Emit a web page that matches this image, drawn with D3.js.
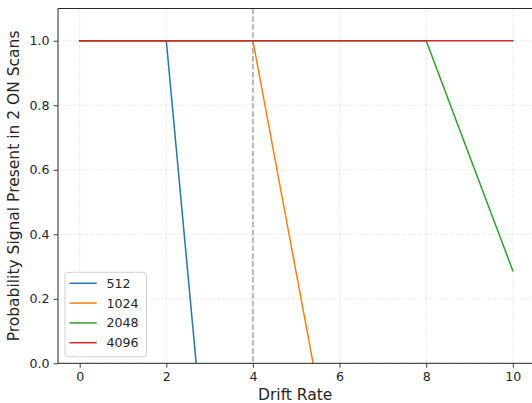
<!DOCTYPE html>
<html><head><meta charset="utf-8">
<script src="https://cdn.jsdelivr.net/npm/d3@7"></script>
<style>body{margin:0;background:#fff;} svg{display:block;font-family:"DejaVu Sans",sans-serif;}</style>
</head><body>
<svg id="c" width="532" height="403"></svg>
<script>
const driftRates = [0,1,2,3,4,5,6,7,8,9,10];
const seriesNames = ["512","1024","2048","4096"];
const values512  = [1,1,1,-0.45,-1.9,-3.35,-4.8,-6.25,-7.7,-9.15,-10.6];
const values1024 = [1,1,1,1,1,0.28,-0.44,-1.16,-1.88,-2.6,-3.32];
const values2048 = [1,1,1,1,1,1,1,1,1,0.643,0.287];
const values4096 = [1,1,1,1,1,1,1,1,1,1,1];
const xTicks = [0,2,4,6,8,10];
const yTicks = [0,0.2,0.4,0.6,0.8,1.0];
const colors = ["#1f77b4","#ff7f0e","#2ca02c","#d62728"];
const allValues = [values512, values1024, values2048, values4096];

const svg = d3.select("#c");
const m = {l:58, t:8.5, r:534.5, b:363.3};
const x = d3.scaleLinear().domain([-0.5,10.5]).range([m.l, m.r]);
const y = d3.scaleLinear().domain([0,1.1]).range([m.b, m.t]);

svg.append("defs").append("clipPath").attr("id","clip")
  .append("rect").attr("x",m.l).attr("y",m.t).attr("width",m.r-m.l).attr("height",m.b-m.t);

// grid
const g = svg.append("g");
g.selectAll(".gx").data(xTicks).join("line")
  .attr("x1",d=>x(d)).attr("x2",d=>x(d)).attr("y1",m.t).attr("y2",m.b)
  .attr("stroke","#b0b0b0").attr("stroke-opacity",0.3).attr("stroke-width",0.8).attr("stroke-dasharray","3.7,1.6");
g.selectAll(".gy").data(yTicks).join("line")
  .attr("y1",d=>y(d)).attr("y2",d=>y(d)).attr("x1",m.l).attr("x2",m.r)
  .attr("stroke","#b0b0b0").attr("stroke-opacity",0.3).attr("stroke-width",0.8).attr("stroke-dasharray","3.7,1.6");

// vertical reference line
svg.append("line").attr("x1",x(4)).attr("x2",x(4)).attr("y1",m.t).attr("y2",m.b)
  .attr("stroke","#808080").attr("stroke-opacity",0.7).attr("stroke-width",1.5).attr("stroke-dasharray","5.5,2.4");

// lines
const line = d3.line().x((d,i)=>x(driftRates[i])).y(d=>y(d));
const lg = svg.append("g").attr("clip-path","url(#clip)");
allValues.forEach((vals,i)=>{
  lg.append("path").attr("d",line(vals)).attr("fill","none")
    .attr("stroke",colors[i]).attr("stroke-width",1.5).attr("stroke-linejoin","round").attr("stroke-linecap","square");
});

// axes
const xAxis = d3.axisBottom(x).tickValues(xTicks).tickSize(4.4).tickPadding(4).tickFormat(d3.format("d"));
const yAxis = d3.axisLeft(y).tickValues(yTicks).tickSize(4.4).tickPadding(4).tickFormat(d3.format(".1f"));
const ax = svg.append("g").attr("transform",`translate(0,${m.b})`).call(xAxis);
const ay = svg.append("g").attr("transform",`translate(${m.l},0)`).call(yAxis);
[ax,ay].forEach(a=>{
  a.select(".domain").remove();
  a.selectAll("text").attr("font-family","DejaVu Sans").attr("font-size","12.6px").attr("fill","#262626");
  a.selectAll("line").attr("stroke","#262626").attr("stroke-width",0.9);
});
// spines
svg.append("line").attr("x1",m.l).attr("x2",m.r).attr("y1",m.b).attr("y2",m.b).attr("stroke","#262626").attr("stroke-width",1);
svg.append("line").attr("x1",m.l).attr("x2",m.r).attr("y1",m.t).attr("y2",m.t).attr("stroke","#262626").attr("stroke-width",1);
svg.append("line").attr("x1",m.l).attr("x2",m.l).attr("y1",m.t).attr("y2",m.b).attr("stroke","#262626").attr("stroke-width",1);
svg.append("line").attr("x1",m.r).attr("x2",m.r).attr("y1",m.t).attr("y2",m.b).attr("stroke","#262626").attr("stroke-width",1);

// labels
svg.append("text").attr("x",(x(-0.5)+x(10.5))/2 - 1).attr("y",399.5).attr("text-anchor","middle")
  .attr("font-size","15.5px").attr("fill","#262626").text("Drift Rate");
svg.append("text").attr("transform",`translate(19,${(m.t+m.b)/2}) rotate(-90)`).attr("text-anchor","middle")
  .attr("font-size","15.5px").attr("fill","#262626").text("Probability Signal Present in 2 ON Scans");

// legend
const leg = svg.append("g");
leg.append("rect").attr("x",65).attr("y",272.3).attr("width",81.5).attr("height",84.4).attr("rx",3)
  .attr("fill","#fff").attr("fill-opacity",0.8).attr("stroke","#cccccc").attr("stroke-width",0.9);
seriesNames.forEach((n,i)=>{
  const yy = 283.3 + i*19.8;
  leg.append("line").attr("x1",69.5).attr("x2",96.7).attr("y1",yy).attr("y2",yy)
    .attr("stroke",colors[i]).attr("stroke-width",1.5);
  leg.append("text").attr("x",106.5).attr("y",yy+4.5).attr("font-size","12.6px").attr("fill","#262626").text(n);
});
</script>
</body></html>
